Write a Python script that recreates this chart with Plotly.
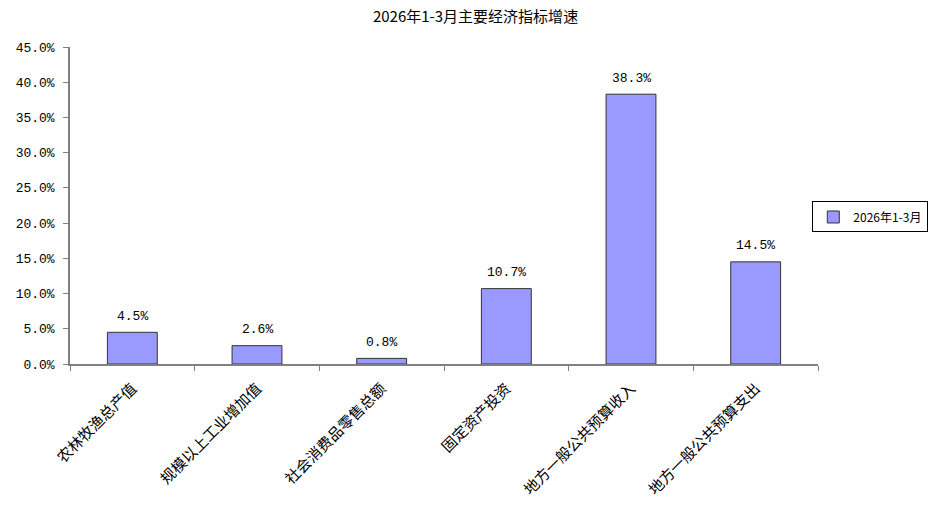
import plotly.graph_objects as go

# Dados do gráfico
categorias = ['农林牧渔总产值', '规模以上工业增加值', '社会消费品零售总额',
              '固定资产投资', '地方一般公共预算收入', '地方一般公共预算支出']
valores = [0.045, 0.026, 0.008, 0.107, 0.383, 0.145]
rotulos = ['4.5%', '2.6%', '0.8%', '10.7%', '38.3%', '14.5%']
serie = '2026年1-3月'
titulo = '2026年1-3月主要经济指标增速'

fonte = 'Noto Sans CJK SC'
mono = 'Liberation Mono'

fig = go.Figure(go.Bar(name=serie, x=categorias, y=valores,
                       marker=dict(color='#9999FF', line=dict(color='#333333', width=1)),
                       showlegend=True))

# rótulos acima das barras
for cat, val, txt in zip(categorias, valores, rotulos):
    fig.add_annotation(x=cat, y=val, text=txt, showarrow=False, yanchor='middle',
                       yshift=16, font=dict(size=13, family=mono, color='#000000'))

fig.update_layout(title=dict(text=titulo, x=0.507, xanchor='center', xref='container',
                             y=0.966, yanchor='middle', yref='container',
                             font=dict(size=15, color='#000000', family=fonte)),
                  width=938, height=507,
                  margin=dict(l=70, r=120, t=47, b=143, autoexpand=False),
                  plot_bgcolor='white', paper_bgcolor='white', bargap=0.6,
                  font=dict(family=fonte, size=12, color='#000000'),
                  legend=dict(xref='container', yref='container', x=0.866, y=0.572,
                              xanchor='left', yanchor='middle', bordercolor='#000000',
                              borderwidth=1, bgcolor='white', font=dict(size=12),
                              itemwidth=30, tracegroupgap=0))

fig.update_xaxes(showline=True, linecolor='#808080', linewidth=1.5, tickson='boundaries',
                 ticks='outside', ticklen=5, tickcolor='#808080', tickangle=-45,
                 ticklabelstandoff=8, tickfont=dict(size=15, family=fonte),
                 showgrid=False, automargin=False)
fig.update_yaxes(range=[0, 0.45], dtick=0.05, tickformat='.1%', showline=True,
                 linecolor='#808080', linewidth=1.5, ticks='outside', ticklen=5,
                 tickcolor='#808080', showgrid=False, zeroline=False, automargin=False,
                 ticklabelstandoff=6, tickfont=dict(size=13, family=mono))

# tira a margem padrão do body (8px) para alinhar com a imagem
fig.write_html("out.html", config={'displayModeBar': False},
               post_script="document.body.style.margin='0';")
